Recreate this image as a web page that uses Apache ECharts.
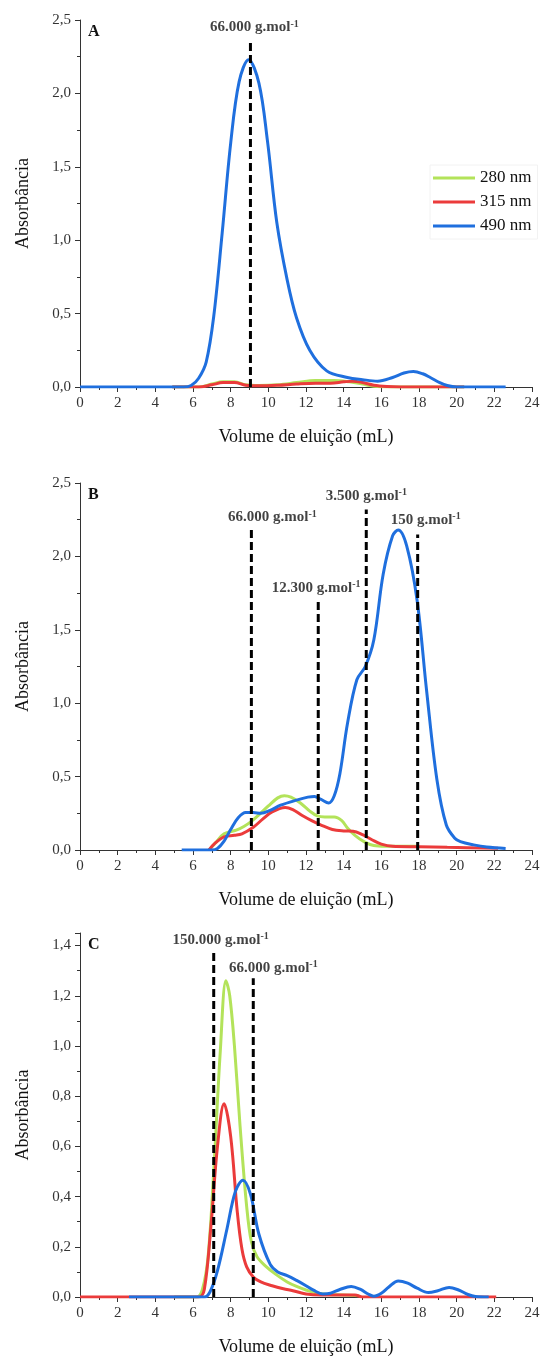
<!DOCTYPE html>
<html><head><meta charset="utf-8">
<script src="https://cdn.jsdelivr.net/npm/echarts@6/dist/echarts.min.js"></script>
<style>html,body{margin:0;padding:0;background:#fff}#c{width:545px;height:1357px}</style>
</head><body><div id="c"></div>
<script>
// ---------- DATA ----------
const seriesNames = ['280 nm', '315 nm', '490 nm'];
const panelLetters = ['A', 'B', 'C'];
const xTitle = 'Volume de eluição (mL)';
const yTitle = 'Absorbância';
const yMax = [2.5, 2.5, 1.45];
const yInterval = [0.5, 0.5, 0.2];

// Panel A  [elution volume mL, absorbance]
const green_A = [[4.9,0],[6.3,0],[7.0,0.02],[7.6,0.035],[8.2,0.035],[8.8,0.015],[9.5,0.01],[10.5,0.015],[11.5,0.03],[12.5,0.045],[13.5,0.045],[14.3,0.035],[15.0,0.02],[15.6,0.005],[16.5,0],[20.4,0]];
const red_A = [[4.9,0],[6.3,0],[7.0,0.015],[7.6,0.03],[8.2,0.03],[8.8,0.012],[9.5,0.008],[10.5,0.012],[11.5,0.02],[12.5,0.025],[13.3,0.025],[14.0,0.035],[14.5,0.04],[15.0,0.03],[15.6,0.012],[16.3,0.003],[17,0],[20.4,0]];
const blue_A = [[0,0],[5.5,0],[5.9,0.01],[6.3,0.06],[6.7,0.17],[7.1,0.48],[7.55,1.05],[8.0,1.66],[8.45,2.08],[8.95,2.23],[9.5,2.07],[9.95,1.68],[10.45,1.12],[11.0,0.73],[11.5,0.47],[12.2,0.25],[13.1,0.11],[14.2,0.065],[15.0,0.05],[15.8,0.04],[16.6,0.065],[17.2,0.095],[17.7,0.105],[18.2,0.09],[18.6,0.065],[19.1,0.03],[19.5,0.01],[20,0],[22.6,0]];

// Panel B
const green_B = [[6.85,0],[7.2,0.05],[7.65,0.11],[8.3,0.135],[8.7,0.16],[9.1,0.195],[9.5,0.24],[10.0,0.3],[10.5,0.355],[10.85,0.37],[11.2,0.36],[11.7,0.32],[12.2,0.265],[12.6,0.232],[13.0,0.225],[13.5,0.225],[13.9,0.2],[14.2,0.15],[14.6,0.1],[15.1,0.055],[15.6,0.03],[16.2,0.025],[18.0,0.025]];
const red_B = [[6.85,0],[7.2,0.05],[7.65,0.09],[8.2,0.1],[8.6,0.11],[9.2,0.155],[9.7,0.21],[10.2,0.26],[10.9,0.29],[11.3,0.275],[11.8,0.235],[12.3,0.2],[12.8,0.17],[13.4,0.14],[14.0,0.13],[14.5,0.128],[15.0,0.105],[15.5,0.07],[16.0,0.04],[16.6,0.025],[18.0,0.022],[19.5,0.018],[22.2,0.012]];
const blue_B = [[5.4,0],[7.0,0],[7.3,0.01],[7.65,0.06],[8.0,0.14],[8.4,0.22],[8.8,0.255],[9.2,0.255],[9.6,0.25],[10.1,0.27],[10.65,0.305],[11.5,0.34],[12.1,0.36],[12.45,0.365],[12.8,0.345],[13.2,0.32],[13.5,0.37],[13.8,0.52],[14.2,0.86],[14.7,1.16],[15.15,1.25],[15.6,1.43],[16.1,1.88],[16.6,2.14],[16.9,2.18],[17.35,2.07],[17.9,1.70],[18.4,1.09],[18.95,0.48],[19.45,0.17],[19.9,0.08],[20.2,0.057],[20.9,0.035],[21.6,0.02],[22.6,0.01]];

// Panel C
const green_C = [[5.0,0],[6.2,0],[6.5,0.03],[6.8,0.16],[7.1,0.5],[7.45,0.98],[7.75,1.26],[7.95,1.2],[8.2,1.0],[8.5,0.68],[8.85,0.36],[9.1,0.22],[9.4,0.16],[9.9,0.12],[10.4,0.09],[11.0,0.06],[11.5,0.042],[12.0,0.028],[12.5,0.017],[13.2,0.01],[14.0,0.008],[14.8,0.005]];
const red_C = [[0,0],[6.3,0],[6.6,0.03],[6.95,0.28],[7.3,0.6],[7.65,0.77],[8.0,0.64],[8.35,0.34],[8.6,0.19],[8.85,0.12],[9.2,0.08],[9.6,0.06],[10.2,0.045],[10.8,0.033],[11.3,0.025],[12.0,0.012],[12.8,0.008],[14.0,0.008],[14.6,0.008],[15.0,0],[22.1,0]];
const blue_C = [[2.6,0],[6.6,0],[6.9,0.02],[7.3,0.105],[7.8,0.27],[8.25,0.42],[8.65,0.465],[9.05,0.41],[9.5,0.25],[10.1,0.13],[10.5,0.1],[11.0,0.085],[11.5,0.066],[12.0,0.045],[12.4,0.027],[12.9,0.012],[13.3,0.015],[13.8,0.03],[14.4,0.042],[14.9,0.03],[15.3,0.012],[15.6,0.003],[16.0,0.015],[16.4,0.04],[16.9,0.064],[17.4,0.055],[17.9,0.035],[18.5,0.018],[19.0,0.025],[19.6,0.038],[20.1,0.028],[20.6,0.01],[21.0,0.002],[21.7,0]];

// Molecular-mass markers
const markerPanel = [0, 1, 1, 1, 1, 2, 2];
const markerX     = [9.05, 9.1, 12.65, 15.2, 17.93, 7.1, 9.2];
const markerTop   = [2.35, 2.20, 1.69, 2.32, 2.15, 1.38, 1.27];
const markerMass  = ['66.000', '66.000', '12.300', '3.500', '150', '150.000', '66.000'];

// ---------- LAYOUT / STYLE ----------
const FONT = '"Liberation Serif","Times New Roman",serif';
const colors = ['#b3e35a', '#eb3b3b', '#1f6fde'];
const gridTops = [20, 483, 933];
const gridH = 367;
const labelOffsets = [[4,-1],[21,4],[-2,0],[0,0],[8,-1],[7,3],[20,3]];
const panelData = [[green_A, red_A, blue_A], [green_B, red_B, blue_B], [green_C, red_C, blue_C]];

const grids = [], xAxes = [], yAxes = [], series = [], graphics = [];
const axisCol = '#333';
for (let p = 0; p < 3; p++) {
  grids.push({left: 80, right: 13, top: gridTops[p], height: gridH});
  xAxes.push({
    type: 'value', gridIndex: p, min: 0, max: 24, interval: 2,
    name: xTitle, nameLocation: 'middle', nameGap: 41,
    nameTextStyle: {fontFamily: FONT, fontSize: 18, color: '#111'},
    axisLine: {show: true, onZero: false, lineStyle: {color: axisCol, width: 1}},
    axisTick: {show: true, length: 5, lineStyle: {color: axisCol}},
    minorTick: {show: true, splitNumber: 2, length: 3, lineStyle: {color: axisCol}},
    splitLine: {show: false},
    axisLabel: {fontFamily: FONT, fontSize: 15, color: '#333', margin: 9}
  });
  yAxes.push({
    type: 'value', gridIndex: p, min: 0, max: yMax[p], interval: yInterval[p],
    name: yTitle, nameLocation: 'middle', nameGap: 48,
    nameTextStyle: {fontFamily: FONT, fontSize: 18, color: '#111'},
    axisLine: {show: true, onZero: false, lineStyle: {color: axisCol, width: 1}},
    axisTick: {show: true, length: 5, lineStyle: {color: axisCol}},
    minorTick: {show: true, splitNumber: 2, length: 3, lineStyle: {color: axisCol}},
    splitLine: {show: false},
    axisLabel: {fontFamily: FONT, fontSize: 15, color: '#333', margin: 9, showMaxLabel: p < 2,
      formatter: v => v.toFixed(1).replace('.', ',')}
  });
  panelData[p].forEach((d, k) => {
    series.push({
      type: 'line', name: seriesNames[k], xAxisIndex: p, yAxisIndex: p, data: d,
      symbol: 'none', showSymbol: false, smooth: 0.35,
      lineStyle: {width: 3, color: colors[k]}, itemStyle: {color: colors[k]}, z: 2 + k
    });
  });
  graphics.push({type: 'text', left: 88, top: gridTops[p] + 4,
    style: {text: panelLetters[p], font: 'bold 16px ' + FONT, fill: '#111'}});
}

markerX.forEach((x, i) => {
  const p = markerPanel[i];
  series.push({
    type: 'line', xAxisIndex: p, yAxisIndex: p, data: [[x, 0], [x, markerTop[i]]],
    symbol: 'none', silent: true, z: 8,
    lineStyle: {color: '#000', width: 3, type: [8, 4]}
  });
  series.push({
    type: 'scatter', xAxisIndex: p, yAxisIndex: p, data: [[x, markerTop[i]]],
    symbolSize: 0, silent: true, z: 9,
    label: {show: true, position: 'top', distance: 5, offset: labelOffsets[i],
      formatter: '{b|' + markerMass[i] + ' g.mol}{s|-1}',
      rich: {
        b: {fontFamily: FONT, fontWeight: 'bold', fontSize: 15, color: '#111', lineHeight: 17},
        s: {fontFamily: FONT, fontWeight: 'bold', fontSize: 10, color: '#111', verticalAlign: 'top', lineHeight: 11}
      }}
  });
});

const chart = echarts.init(document.getElementById('c'), null, {renderer: 'canvas'});
chart.setOption({
  animation: false,
  backgroundColor: '#fff',
  grid: grids, xAxis: xAxes, yAxis: yAxes, series: series, graphic: graphics,
  legend: {
    data: seriesNames.map(n => ({name: n, icon: 'rect'})),
    orient: 'vertical', left: 430, top: 165,
    padding: [4, 6, 4, 3], itemGap: 6, itemWidth: 42, itemHeight: 3,
    borderColor: '#f2f2f2', borderWidth: 1,
    textStyle: {fontFamily: FONT, fontSize: 17, color: '#111', lineHeight: 18}
  }
});
</script></body></html>
